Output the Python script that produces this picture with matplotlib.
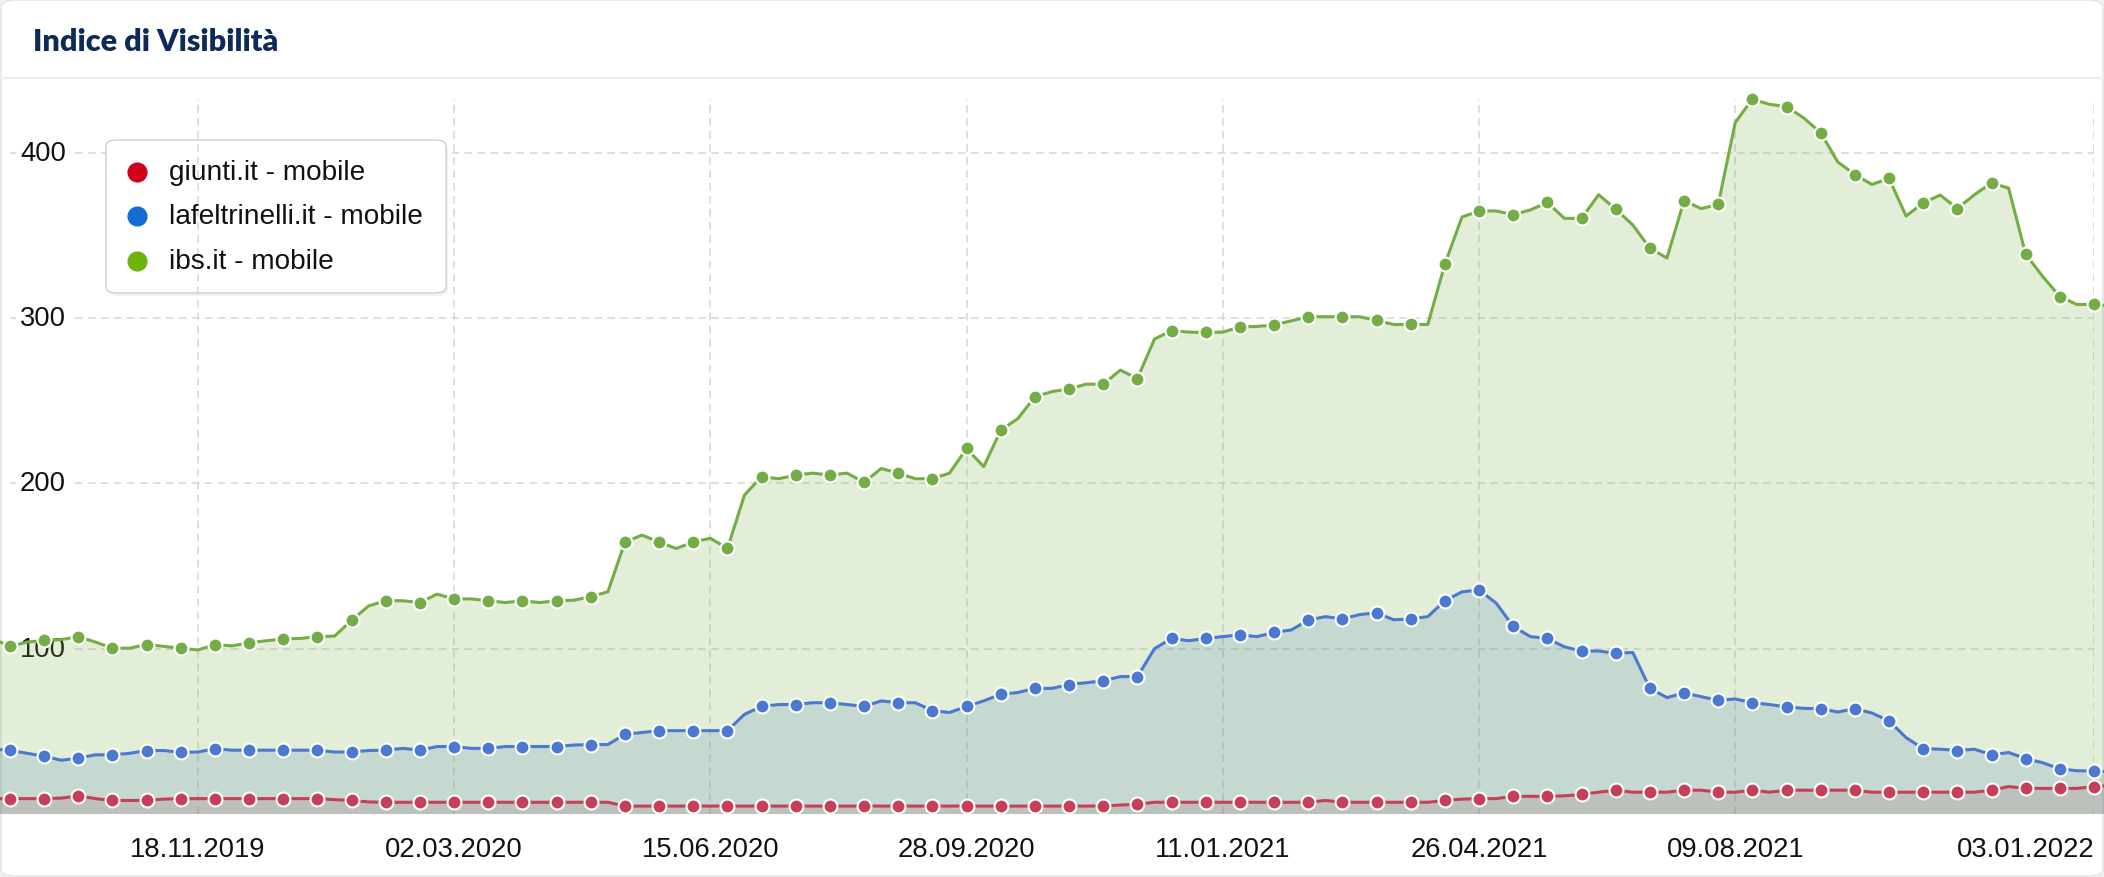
import matplotlib.pyplot as plt
import pandas as pd
from matplotlib.patches import FancyBboxPatch
from matplotlib.lines import Line2D

# weekly values, 26.08.2019 - 10.01.2022
weeks = pd.date_range('2019-08-26', periods=125, freq='7D')

ibs = [106, 101.4, 104, 105, 105.5, 107.3, 104, 100.3, 100.3, 102.5,
       101.4, 100.3, 99.2, 102.5, 101.7, 103.6, 104.8, 105.9, 106.2, 107.3,
       107.6, 117.2, 125.9, 129, 129, 127.9, 133, 130.1, 130.1, 129,
       127.9, 129, 127.9, 129, 129.3, 131.5, 134.4, 164.5, 168.7, 164.5,
       160.6, 164.5, 166.8, 160.6, 193, 204, 202.8, 205, 206.2, 205,
       206.2, 200.6, 209, 206.2, 202.8, 202.8, 206.2, 221.1, 210.1, 232.1,
       239.2, 252.4, 255.5, 257.2, 260, 260, 268.5, 263.4, 287.3, 292.4,
       291.5, 291.3, 291.5, 294.6, 294.9, 295.8, 298.3, 300.8, 300.8, 300.8,
       300.8, 298.6, 296.1, 296.1, 296.1, 332.7, 361.1, 364.8, 364.8, 362.5,
       365.4, 369.9, 360.3, 360.3, 374.6, 365.9, 356.3, 342.3, 336.3, 371,
       366.2, 368.7, 418.3, 432.4, 429.3, 427.9, 421.1, 412.1, 394.4, 386.8,
       380.8, 384.5, 361.7, 369.6, 374.4, 366.2, 374.6, 381.7, 378.6, 338.6,
       325.1, 313, 308.2, 308.2, 307.3]

lafeltrinelli = [39.2, 38.6, 36.7, 35, 32.5, 33.8, 35.8, 35.8, 36.7, 38.4,
                 38.4, 37.3, 37.5, 39.5, 38.6, 38.6, 38.6, 38.6, 38.6, 38.6,
                 37.5, 37.5, 38.4, 38.6, 39.7, 38.6, 40.8, 40.8, 39.7, 39.7,
                 40.8, 40.8, 40.8, 40.8, 41.7, 42, 42, 48.2, 49.3, 50.4,
                 50.4, 50.4, 50.4, 50.4, 60.3, 65.1, 66.2, 66.2, 67.3, 67.3,
                 66.2, 65.1, 68.4, 67.3, 67.3, 62.5, 61.4, 65.1, 68.4, 72.4,
                 73.5, 76, 76, 78.3, 79.4, 80.6, 83.1, 83.1, 100, 106.2,
                 104.8, 106.2, 107.3, 108.4, 107.3, 109.9, 111.3, 117.2, 119.4, 118,
                 120.6, 121.7, 117.5, 118, 119.4, 129, 134.4, 135.5, 127.6, 113.5,
                 107.3, 106.2, 101.1, 98.6, 98.6, 97.2, 97.7, 76, 70.4, 73.2,
                 71, 68.7, 69.6, 67.3, 66.2, 64.8, 63.9, 63.7, 61.7, 63.7,
                 61.1, 56.3, 46.2, 39.5, 39.2, 38.4, 39.2, 35.8, 37.2, 33.5,
                 31, 27.3, 26.2, 25.9, 25.6]

giunti = [9.3, 9.3, 9.3, 9.3, 9.6, 11, 9.3, 8.2, 8.2, 8.2,
          9, 9.3, 9.3, 9.3, 9.3, 9.3, 9.3, 9.3, 9.3, 9.3,
          8.7, 8.2, 7.3, 7.1, 7.1, 7.1, 7.1, 7.1, 7.1, 7.1,
          7.1, 7.1, 7.1, 7.1, 7.1, 7.1, 7.1, 4.8, 4.8, 4.8,
          4.8, 4.8, 4.8, 4.8, 4.8, 4.8, 4.8, 4.8, 4.8, 4.8,
          4.8, 4.8, 4.8, 4.8, 4.8, 4.8, 4.8, 4.8, 4.8, 4.8,
          4.8, 4.8, 4.8, 4.8, 4.8, 4.8, 5.4, 5.9, 7.1, 7.1,
          7.1, 7.1, 7.1, 7.1, 7.1, 7.1, 7.1, 7.1, 8.2, 7.1,
          7.1, 7.1, 7.1, 7.1, 7.1, 8.2, 9, 9.3, 9.3, 10.7,
          10.7, 10.7, 11, 11.8, 13.2, 14.4, 13.2, 13.2, 13.2, 14.4,
          14.4, 13.2, 13.2, 14.4, 13.2, 14.4, 14.4, 14.4, 14.4, 14.4,
          13.2, 13.2, 13.2, 13.2, 13.2, 13.2, 13.2, 14.4, 16.6, 15.5,
          15.5, 15.5, 15.5, 16.6, 17.2]

tick_dates = pd.to_datetime(['2019-11-18', '2020-03-02', '2020-06-15', '2020-09-28',
                             '2021-01-11', '2021-04-26', '2021-08-09', '2022-01-03'])
tick_labels = ['18.11.2019', '02.03.2020', '15.06.2020', '28.09.2020',
               '11.01.2021', '26.04.2021', '09.08.2021', '03.01.2022']
y_ticks = [100, 200, 300, 400]

# name, values, line colour, fill colour, legend colour
series = [
    ('ibs.it - mobile', ibs, '#74ad45', '#74ad45', '#6cb30b'),
    ('lafeltrinelli.it - mobile', lafeltrinelli, '#4b79cf', '#5685ae', '#166cd6'),
    ('giunti.it - mobile', giunti, '#c63f59', '#99616e', '#d0021b'),
]

W, H = 2104, 878
plt.rcParams['font.family'] = ['Liberation Sans', 'DejaVu Sans']
fig = plt.figure(figsize=(W / 100, H / 100), dpi=100)
fig.patch.set_facecolor('#eef0f2')


def fx(px):
    return px / W


def fy(py):
    return 1 - py / H


card = FancyBboxPatch((fx(1), fy(877)), fx(2102), 876 / H,
                      boxstyle='round,pad=0,rounding_size=0.008',
                      transform=fig.transFigure, facecolor='white',
                      edgecolor='#e2e4e6', lw=1, zorder=-10)
fig.patches.append(card)
fig.add_artist(Line2D([0, 1], [fy(79), fy(79)], transform=fig.transFigure,
                      color='#efefef', lw=1.5))
fig.text(fx(33), fy(42), 'Indice di Visibilità', fontsize=22, fontweight='heavy',
         color='#0e2a5a', va='center', ha='left', family=['Lato', 'DejaVu Sans'])

ax = fig.add_axes([fx(10), fy(815), fx(2084), 715 / H])
ax.patch.set_visible(False)
for s in ax.spines.values():
    s.set_visible(False)
ax.set_xlim(weeks[1], weeks[-2])
ax.set_ylim(0, 432.5)
ax.set_yticks([])
ax.set_xticks(tick_dates)
ax.set_xticklabels(tick_labels)
ax.tick_params(axis='x', length=0, pad=16, labelsize=19.7, labelcolor='#111111')
ax.get_xticklabels()[-1].set_ha('right')

grid_kw = dict(color='#d6d6d6', lw=1.1, ls=(0, (5, 3.5)))
for y in y_ticks:
    ax.axhline(y, zorder=0.5, **grid_kw)
    ax.text(0.0269, y, str(y), transform=ax.get_yaxis_transform(), ha='right',
            va='center', fontsize=19.7, color='#111111', zorder=1,
            bbox=dict(facecolor='white', edgecolor='none', pad=3))
for d in tick_dates:
    ax.axvline(d, zorder=0.7, **grid_kw)

for name, vals, lc, fc, _ in series:
    ax.fill_between(weeks, 0, vals, color=fc, alpha=0.2, lw=0, zorder=2, clip_on=False)
for name, vals, lc, fc, _ in series:
    ax.plot(weeks, vals, color=lc, lw=2.2, marker='o', markevery=(1, 2), ms=10,
            mfc=lc, mec='white', mew=1.5, zorder=3, clip_on=False)

# legend box
shadow = FancyBboxPatch((fx(108), fy(297)), fx(340), 153 / H,
                        boxstyle='round,pad=0,rounding_size=0.006',
                        transform=fig.transFigure, facecolor='#000000', alpha=0.05,
                        edgecolor='none', zorder=0.55, clip_on=False)
box = FancyBboxPatch((fx(106), fy(294)), fx(340), 153 / H,
                     boxstyle='round,pad=0,rounding_size=0.006',
                     transform=fig.transFigure, facecolor='white',
                     edgecolor='#cfcfcf', lw=1, zorder=0.6, clip_on=False)
ax.add_patch(shadow)
ax.add_patch(box)
rows = [173, 217, 262]
for (name, vals, lc, fc, legc), ry in zip(series[::-1], rows):
    ax.add_line(Line2D([fx(137)], [fy(ry)], transform=fig.transFigure, marker='o',
                       ms=13.5, color=legc, lw=0, zorder=5, clip_on=False))
    ax.text(fx(169), fy(ry), name, transform=fig.transFigure, fontsize=20.2,
            color='#111111', va='center', ha='left', zorder=5)

fig.savefig('out.png', dpi=100, facecolor=fig.get_facecolor())
